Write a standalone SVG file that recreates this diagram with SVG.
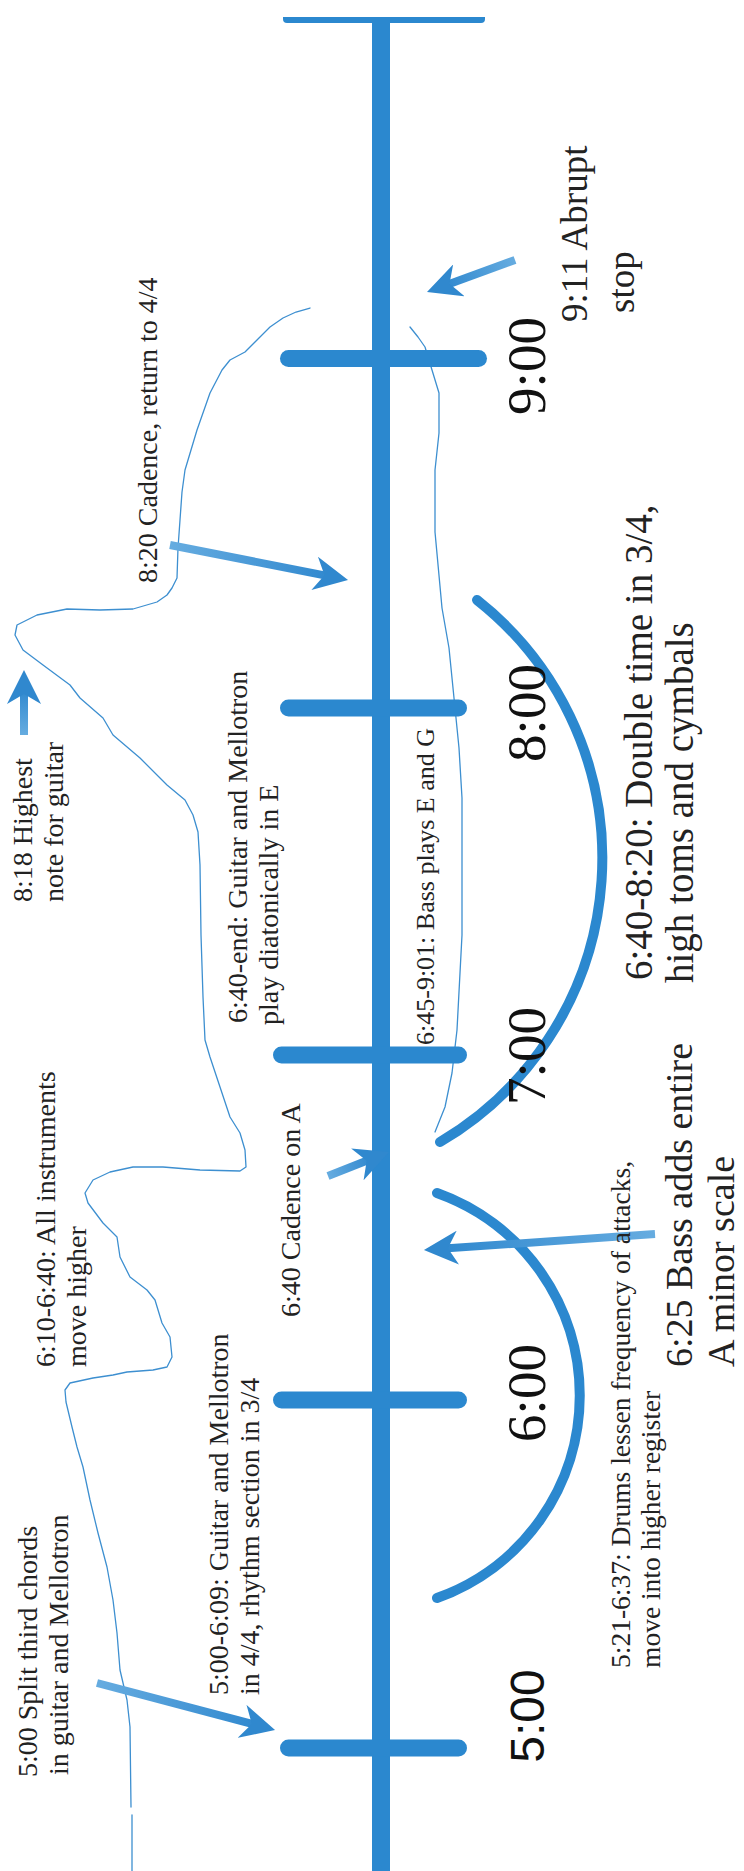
<svg xmlns="http://www.w3.org/2000/svg" width="744" height="1871" viewBox="0 0 744 1871">
<style>
.bar{stroke:#2b88cf;stroke-width:17;stroke-linecap:round;fill:none}
.axis{stroke:#2b88cf;stroke-width:18;fill:none}
.arc{stroke:#2b88cf;stroke-width:10;stroke-linecap:round;fill:none}
.contour{stroke:#3d8fd0;stroke-width:1.3;fill:none;stroke-linejoin:round;stroke-linecap:round}
.arrow{stroke-width:8;fill:none;marker-end:url(#ah)}
.t{font-family:"Liberation Serif","Times New Roman",serif;fill:#222}
.s28{font-size:28px}
.s26{font-size:26px}
.s27{font-size:27.5px}
.s37{font-size:37px}
.s38{font-size:38px}
.s39{font-size:39px}
.lab{font-family:"Liberation Serif","Times New Roman",serif;font-size:55px;fill:#111;text-anchor:middle}
.labs{font-family:"Liberation Sans",Arial,sans-serif;font-size:48px;fill:#111;text-anchor:middle}
.g0{stop-color:#66ace0}
.g1{stop-color:#3189cf}
</style>
<defs>
<marker id="ah" viewBox="0 0 34 34" refX="14" refY="17" markerWidth="34" markerHeight="34" markerUnits="userSpaceOnUse" orient="auto">
<path d="M34,17 L0,0 L10,17 L0,34 Z" fill="#3088ce"/>
</marker>
<linearGradient id="ga1" gradientUnits="userSpaceOnUse" x1="515" y1="260" x2="445.8" y2="285.2"><stop offset="0" class="g0"/><stop offset="1" class="g1"/></linearGradient>
<linearGradient id="ga2" gradientUnits="userSpaceOnUse" x1="170" y1="545" x2="328.4" y2="576.1"><stop offset="0" class="g0"/><stop offset="1" class="g1"/></linearGradient>
<linearGradient id="ga3" gradientUnits="userSpaceOnUse" x1="24" y1="735" x2="24" y2="690"><stop offset="0" class="g0"/><stop offset="1" class="g1"/></linearGradient>
<linearGradient id="ga4" gradientUnits="userSpaceOnUse" x1="328" y1="1176" x2="370.4" y2="1159.3"><stop offset="0" class="g0"/><stop offset="1" class="g1"/></linearGradient>
<linearGradient id="ga5" gradientUnits="userSpaceOnUse" x1="655" y1="1234" x2="443.9" y2="1248.6"><stop offset="0" class="g0"/><stop offset="1" class="g1"/></linearGradient>
<linearGradient id="ga6" gradientUnits="userSpaceOnUse" x1="97" y1="1683" x2="255.7" y2="1724.9"><stop offset="0" class="g0"/><stop offset="1" class="g1"/></linearGradient>
</defs>
<rect width="744" height="1871" fill="#ffffff"/>

<g id="contours">
<polyline class="contour" points="310,308 296,312 283,318 270,327 260,337 245,352 230,360 222,370 210,393 197,430 185,470 182,492 180,520 178,548 177,578 172,588 167,595 157,602 133,609 100,610 67,609 37,615 17,625 15,635 23,650 43,665 70,685 80,698 103,718 113,735 140,758 167,785 185,800 193,815 198,832 200,865 201,935 203,997 205,1040 210,1057 220,1087 230,1117 240,1133 245,1150 246,1167 240,1171 200,1170 163,1167 133,1167 110,1172 93,1180 85,1193 88,1203 103,1223 117,1237 120,1257 130,1277 147,1290 155,1300 162,1323 170,1337 172,1357 167,1367 153,1370 127,1372 113,1375 93,1378 70,1383 65,1390 66,1402 72,1427 77,1447 83,1467 90,1500 98,1533 107,1567 113,1600 117,1633 120,1670 127,1700 130,1727 131,1807"/>
<polyline class="contour" points="132,1815 132,1871"/>
<polyline class="contour" points="410,327 418,337 425,347 432,370 439,393 439,433 435,470 435,532 442,608 449,648 454,698 459,748 462,798 462,935 457,1030 452,1073 445,1107 435,1132"/>
</g>

<g id="timeline">
<line class="axis" x1="381" y1="17" x2="381" y2="1871"/>
<path d="M283,17 H485 V19 Q485,23 481,23 H287 Q283,23 283,19 Z" fill="#2b88cf"/>
</g>

<g id="tick-900"><line class="bar" x1="288.5" y1="358.5" x2="478.5" y2="358.5"/></g>
<g id="tick-800"><line class="bar" x1="288.5" y1="708" x2="458.5" y2="708"/></g>
<g id="tick-700"><line class="bar" x1="281.5" y1="1055" x2="458.5" y2="1055"/></g>
<g id="tick-600"><line class="bar" x1="281.5" y1="1400" x2="458.5" y2="1400"/></g>
<g id="tick-500"><line class="bar" x1="288.5" y1="1748" x2="458.5" y2="1748"/></g>

<g id="arcs">
<path class="arc" d="M477,600 A329,329 0 0 1 440,1142"/>
<path class="arc" d="M437,1193 A215,215 0 0 1 437,1598"/>
</g>

<g id="connectors">
<line class="arrow" stroke="url(#ga1)" x1="515" y1="260" x2="445.8" y2="285.2"/>
<line class="arrow" stroke="url(#ga2)" x1="170" y1="545" x2="328.4" y2="576.1"/>
<line class="arrow" stroke="url(#ga3)" x1="24" y1="735" x2="24" y2="690"/>
<line class="arrow" stroke="url(#ga4)" x1="328" y1="1176" x2="370.4" y2="1159.3"/>
<line class="arrow" stroke="url(#ga5)" x1="655" y1="1234" x2="443.9" y2="1248.6"/>
<line class="arrow" stroke="url(#ga6)" x1="97" y1="1683" x2="255.7" y2="1724.9"/>
</g>

<g id="labels">
<text class="lab" transform="translate(545,366) rotate(-90)">9:00</text>
<text class="lab" transform="translate(545,713) rotate(-90)">8:00</text>
<text class="lab" transform="translate(545,1056) rotate(-90)">7:00</text>
<text class="lab" transform="translate(545,1393) rotate(-90)">6:00</text>
<text class="labs" transform="translate(544,1716) rotate(-90)">5:00</text>
</g>

<g id="n-abrupt"><text class="t s37" transform="translate(587,322) rotate(-90)"><tspan x="0" y="0">9:11 Abrupt</tspan><tspan x="9" y="47">stop</tspan></text></g>
<g id="n-cadence820"><text class="t s28" transform="translate(157,583) rotate(-90)">8:20 Cadence, return to 4/4</text></g>
<g id="n-highest"><text class="t s28" transform="translate(32,902) rotate(-90)"><tspan x="0" y="0">8:18 Highest</tspan><tspan x="0" y="31">note for guitar</tspan></text></g>
<g id="n-640end"><text class="t s28" transform="translate(247,1023) rotate(-90)"><tspan x="0" y="0">6:40-end: Guitar and Mellotron</tspan><tspan x="-2" y="31">play diatonically in E</tspan></text></g>
<g id="n-bass645"><text class="t s26" transform="translate(434,1045) rotate(-90)">6:45-9:01: Bass plays E and G</text></g>
<g id="n-610"><text class="t s28" transform="translate(55,1367) rotate(-90)"><tspan x="0" y="0">6:10-6:40: All instruments</tspan><tspan x="0" y="31">move higher</tspan></text></g>
<g id="n-cadenceA"><text class="t s28" transform="translate(300,1317) rotate(-90)">6:40 Cadence on A</text></g>
<g id="n-500-609"><text class="t s28" transform="translate(228,1695) rotate(-90)"><tspan x="0" y="0">5:00-6:09: Guitar and Mellotron</tspan><tspan x="0" y="31">in 4/4, rhythm section in 3/4</tspan></text></g>
<g id="n-split"><text class="t s28" transform="translate(37,1777) rotate(-90)"><tspan x="0" y="0">5:00 Split third chords</tspan><tspan x="2" y="31">in guitar and Mellotron</tspan></text></g>
<g id="n-drums"><text class="t s27" transform="translate(630,1668) rotate(-90)"><tspan x="0" y="0">5:21-6:37: Drums lessen frequency of attacks,</tspan><tspan x="0" y="30">move into higher register</tspan></text></g>
<g id="n-double"><text class="t s39" transform="translate(652,980) rotate(-90)"><tspan x="0" y="0">6:40-8:20: Double time in 3/4,</tspan><tspan x="-3" y="41">high toms and cymbals</tspan></text></g>
<g id="n-bass625"><text class="t s38" transform="translate(692,1367) rotate(-90)"><tspan x="0" y="0">6:25 Bass adds entire</tspan><tspan x="0" y="42">A minor scale</tspan></text></g>
</svg>
